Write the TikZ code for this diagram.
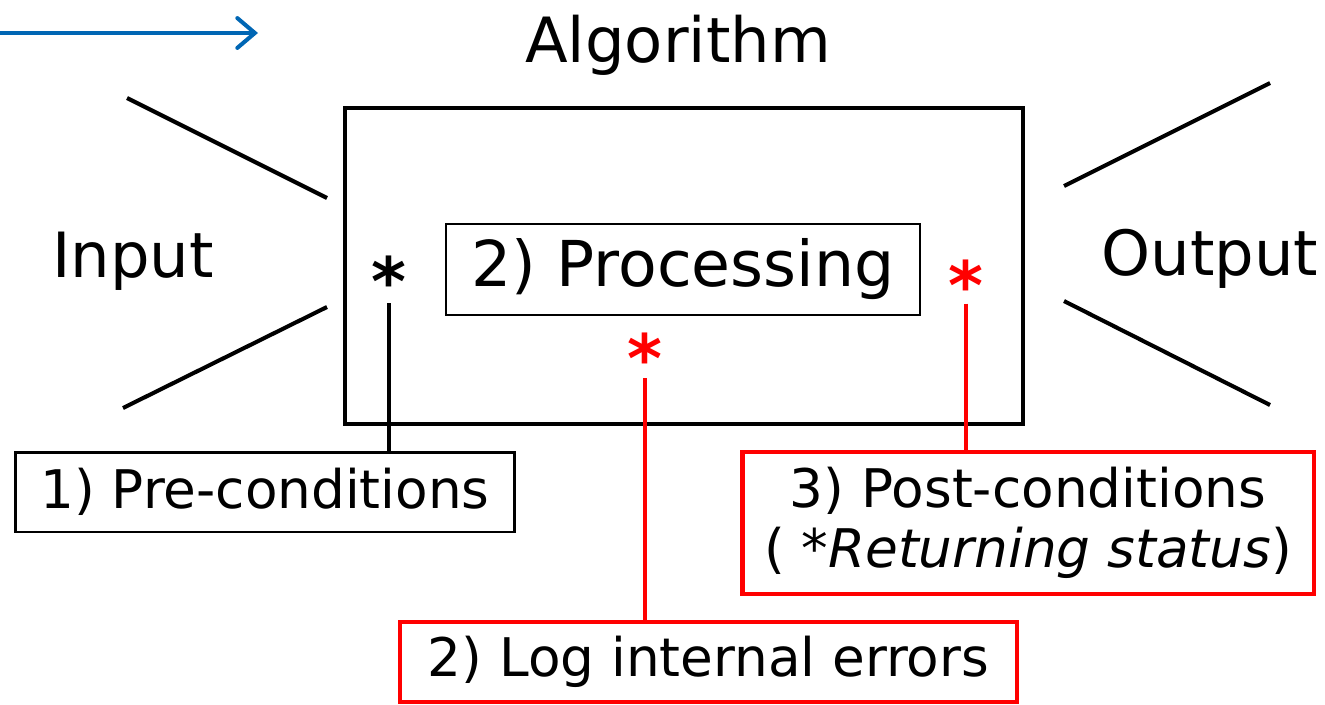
\documentclass[tikz,border=0pt]{standalone}
\usepackage{fontspec}
\setmainfont{DejaVu Sans}
\usetikzlibrary{arrows.meta,calc,positioning}
\definecolor{FlowClr}{RGB}{0,102,180}
\definecolor{ErrClr}{RGB}{255,0,0}

\begin{document}
\begin{tikzpicture}[x=0.02cm,y=-0.02cm,
  biglbl/.style={inner sep=0pt,anchor=base,font=\fontsize{35.5}{40}\selectfont},
  tagbox/.style={draw,line width=1.7pt,inner sep=0pt,font=\fontsize{30.3}{34}\selectfont},
  errbox/.style={tagbox,draw=ErrClr},
  starmark/.style={inner sep=0pt,anchor=base,font=\fontsize{38}{38}\selectfont\bfseries},
  funnel/.style={line width=2.3pt},
  pin/.style={line width=2.2pt}]
\useasboundingbox (0,0) rectangle (1325,704);

% flow arrow
\coordinate (flowS) at (0,33);
\coordinate (flowE) at (258,33);
\draw[FlowClr,line width=2.3pt,-{Straight Barb[length=10pt,width=17pt,line cap=round]}] (flowS) -- (flowE);

% algorithm block
\node[biglbl] (title) at (678,62) {Algorithm};
\node[draw,line width=2.3pt,minimum width=13.56cm,minimum height=6.32cm] (algo) at (684,266) {};
\node[draw,line width=1.1pt,minimum width=9.48cm,minimum height=1.82cm,
      font=\fontsize{36}{40}\selectfont] (proc) at (683,269.5) {2) Processing};

% input and output funnels
\node[biglbl] (in) at (133,277) {Input};
\node[biglbl] (out) at (1210,275) {Output};
\coordinate (inA) at (127,98);  \coordinate (inB) at (327,198);
\coordinate (inC) at (123,408); \coordinate (inD) at (327,307);
\coordinate (outA) at (1064,186); \coordinate (outB) at (1270,83);
\coordinate (outC) at (1064,301); \coordinate (outD) at (1270,405);
\draw[funnel] (inA) -- (inB) (inC) -- (inD);
\draw[funnel] (outA) -- (outB) (outC) -- (outD);

% check points
\node[starmark] (chkPre) at (389,305) {*};
\node[starmark,ErrClr] (chkLog) at (645,382) {*};
\node[starmark,ErrClr] (chkPost) at (966,309) {*};

\node[tagbox,minimum width=10cm,minimum height=1.6cm] (pre) at (265,492) {1) Pre-conditions};
\node[errbox,line width=2.8pt,minimum width=11.44cm,minimum height=2.84cm,align=center] (post) at (1028,523)
  {3) Post-conditions\\( \textit{*Returning status})};
\node[errbox,line width=1.9pt,minimum width=12.34cm,minimum height=1.6cm] (log) at (708.5,662) {2) Log internal errors};

\draw[pin] ([yshift=1pt]chkPre.base) -- (chkPre.base |- pre.north);
\draw[pin,ErrClr] ([yshift=2pt]chkLog.base) -- (chkLog.base |- log.north);
\draw[pin,ErrClr] ([yshift=3pt]chkPost.base) -- (chkPost.base |- post.north);

\end{tikzpicture}
\end{document}
